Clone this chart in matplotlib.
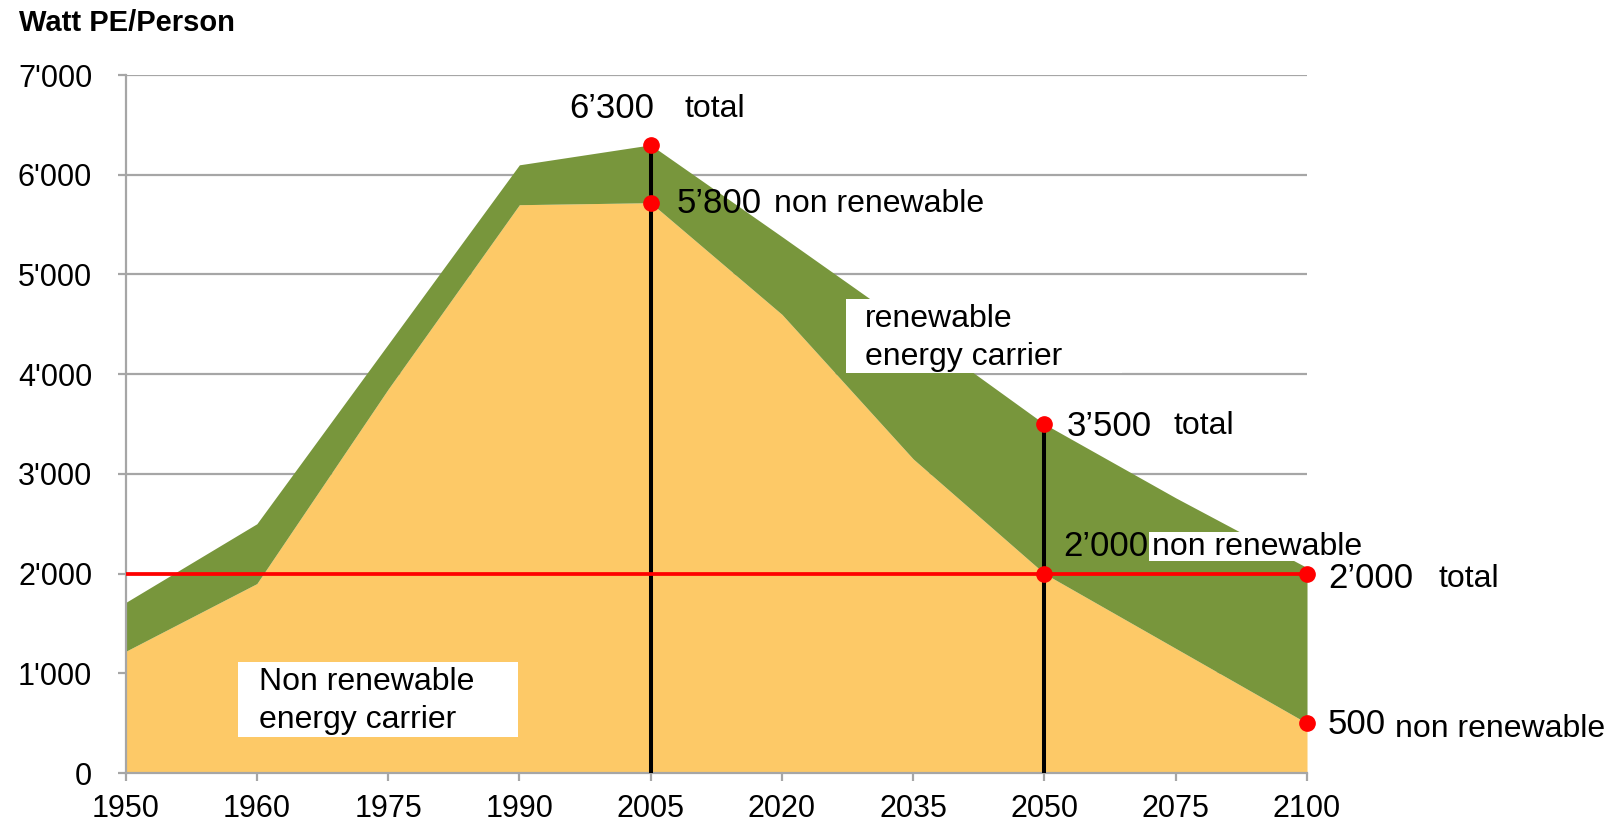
import matplotlib
matplotlib.use("Agg")
import matplotlib.pyplot as plt
from matplotlib.patches import Rectangle
import numpy as np

plt.rcParams['font.family'] = ['Liberation Sans', 'DejaVu Sans']

# data
years = ["1950", "1960", "1975", "1990", "2005", "2020", "2035", "2050", "2075", "2100"]
total = [1710, 2500, 4300, 6100, 6300, 5380, 4450, 3500, 2760, 2060]
non_renewable = [1220, 1900, 3850, 5700, 5720, 4600, 3150, 2000, 1250, 500]
target = 2000

x = np.arange(len(years))

yellow = "#FDC967"
green = "#78963C"
grid_col = "#A6A6A6"

fig = plt.figure(figsize=(16.14, 8.25), dpi=100)
ax = fig.add_axes([0.0778, 0.063, 0.732, 0.846])

# stacked areas
ax.fill_between(x, 0, non_renewable, color=yellow, lw=0, zorder=2)
ax.fill_between(x, non_renewable, total, color=green, lw=0, zorder=2)

# vertical markers at 2005 and 2050
i05 = years.index("2005")
i50 = years.index("2050")
i00 = years.index("2100")
ax.vlines([x[i05], x[i50]], 0, [total[i05], total[i50]], color="black", lw=2.9, zorder=4)

# 2000 W target line
ax.plot([x[0], x[-1]], [target, target], color="red", lw=2.7, zorder=4)

# red dots
dot_x = [x[i05], x[i05], x[i50], x[i50], x[i00], x[i00]]
dot_y = [total[i05], non_renewable[i05], total[i50], non_renewable[i50], target, non_renewable[i00]]
ax.plot(dot_x, dot_y, "o", color="red", ms=11, zorder=5, clip_on=False)

# axes styling
ax.set_xlim(0, len(years) - 1)
ax.set_ylim(0, 7000)
ax.set_xticks(x)
ax.set_xticklabels(years)
yt = np.arange(0, 7001, 1000)
ax.set_yticks(yt)
ax.set_yticklabels(["0"] + [f"{v // 1000}'000" for v in yt[1:]])
ax.yaxis.grid(True, color=grid_col, lw=1.6)
ax.set_axisbelow(True)
for s in ["top", "right"]:
    ax.spines[s].set_visible(False)
for s in ["left", "bottom"]:
    ax.spines[s].set_color(grid_col)
    ax.spines[s].set_linewidth(1.6)
ax.tick_params(axis="both", colors=grid_col, labelcolor="black", labelsize=22, length=6, width=1.6)
ax.tick_params(axis="y", pad=18)
ax.tick_params(axis="x", pad=9)

# white label boxes
for (x0, x1, y0, y1) in [(5.49, 7.59, 4016, 4759), (0.86, 2.99, 361, 1115), (7.80, 9.39, 2127, 2416)]:
    ax.add_patch(Rectangle((x0, y0), x1 - x0, y1 - y0, facecolor="white", edgecolor="none",
                           zorder=6, clip_on=False))

# annotations
num_fs = 25
lab_fs = 23
ax.text(3.38, 6660, "6’300", fontsize=num_fs, va="center")
ax.text(4.26, 6660, "total", fontsize=lab_fs, va="center")
ax.text(4.20, 5710, "5’800", fontsize=num_fs, va="center")
ax.text(4.94, 5710, "non renewable", fontsize=lab_fs, va="center")
ax.text(5.63, 4360, "renewable\nenergy carrier", fontsize=lab_fs, va="center", linespacing=1.34,
        zorder=7)
ax.text(7.17, 3480, "3’500", fontsize=num_fs, va="center")
ax.text(7.98, 3480, "total", fontsize=lab_fs, va="center")
ax.text(7.14, 2270, "2’000", fontsize=num_fs, va="center", zorder=7)
ax.text(7.82, 2270, "non renewable", fontsize=lab_fs, va="center", zorder=7)
ax.text(9.16, 1950, "2’000", fontsize=num_fs, va="center")
ax.text(10.0, 1950, "total", fontsize=lab_fs, va="center")
ax.text(9.16, 490, "500", fontsize=num_fs, va="center")
ax.text(9.67, 445, "non renewable", fontsize=lab_fs, va="center")
ax.text(1.02, 725, "Non renewable\nenergy carrier", fontsize=lab_fs, va="center", linespacing=1.34,
        zorder=7)

fig.text(0.0115, 0.972, "Watt PE/Person", fontsize=21, fontweight="bold", va="center")

fig.savefig("out.png", dpi=100)
